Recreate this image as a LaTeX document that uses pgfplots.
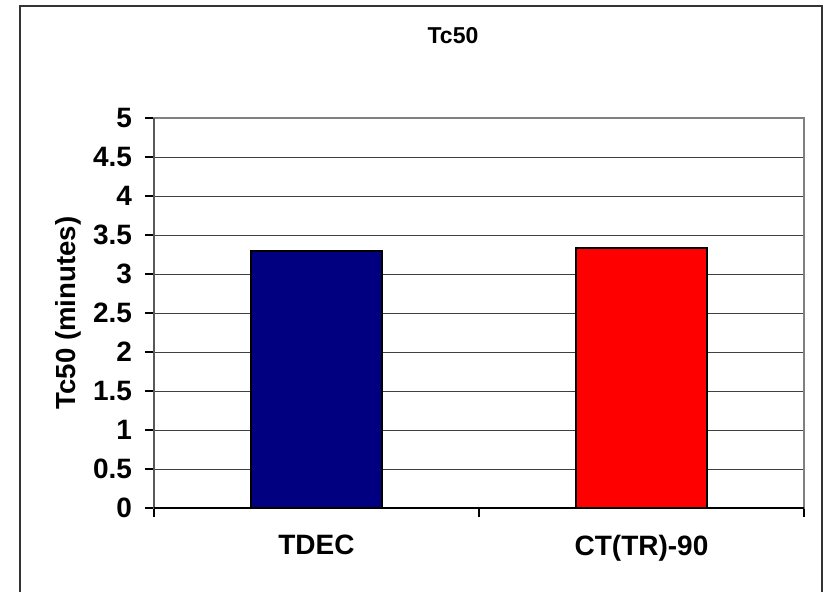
\documentclass[border=0pt]{standalone}
\usepackage{pgfplots}
\pgfplotsset{compat=1.18}
\usepackage{fontspec}
\setmainfont{Liberation Sans}
\definecolor{barnavy}{HTML}{000080}
\definecolor{barred}{HTML}{FF0000}
\begin{document}
\begin{tikzpicture}
\useasboundingbox (-77pt,-41.5pt) rectangle (336.5pt,254pt);
\draw[line width=0.9pt, black!80] (-67pt,-60pt) -- (-67pt,251pt) -- (334pt,251pt) -- (334pt,-60pt);
\begin{axis}[
  at={(0pt,0pt)}, anchor=south west,
  scale only axis, width=325pt, height=195pt,
  xmin=-0.5, xmax=1.5, ymin=0, ymax=5,
  ybar, bar width=65.5pt,
  ytick={0,0.5,...,5},
  yticklabels={0,0.5,1,1.5,2,2.5,3,3.5,4,4.5,5},
  xtick={-0.5,0.5,1.5}, xticklabels={},
  extra x ticks={0,1},
  extra x tick labels={TDEC,CT(TR)-90},
  extra x tick style={major tick length=0pt, grid=none, tick label style={yshift=-10pt}},
  tick align=outside, major tick length=4.5pt,
  tick style={black, line width=0.6pt},
  xtick pos=bottom, ytick pos=left,
  ymajorgrids, grid style={black!75, line width=0.5pt},
  axis line style={draw=black!50, line width=1.1pt},
  /pgf/number format/assume math mode=true,
  ticklabel style={font=\fontsize{14}{16}\selectfont\bfseries},
  yticklabel style={xshift=-3pt},
  ylabel={Tc50 (minutes)},
  ylabel style={at={(axis description cs:-0.1323,0.5)}, anchor=center, font=\fontsize{13.8}{15}\selectfont\bfseries},
  clip=false,
]
\addplot[bar shift=0pt, fill=barnavy, draw=black, line width=1.1pt] coordinates {(0,3.29)};
\addplot[bar shift=0pt, fill=barred, draw=black, line width=1.1pt] coordinates {(1,3.33)};
\draw[black!65, line width=1pt] (rel axis cs:0,0) -- (rel axis cs:0,1);
\draw[black, line width=1pt] (rel axis cs:0,0) -- (rel axis cs:1,0);
\node[anchor=base, font=\fontsize{11.5}{13}\selectfont\bfseries] at ([yshift=37.5pt]rel axis cs:0.46,1) {Tc50};
\end{axis}
\end{tikzpicture}
\end{document}
